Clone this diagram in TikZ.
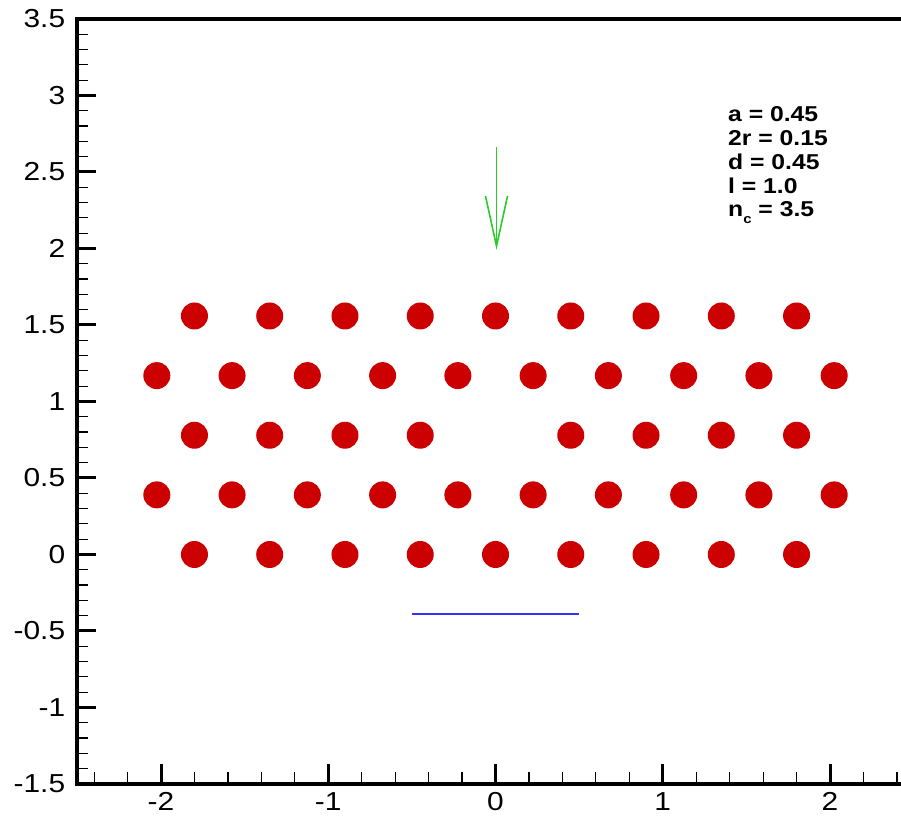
\documentclass[tikz,border=0pt]{standalone}
\usepackage{fontspec}
\setmainfont{Liberation Sans}
\newfontfamily\tickfont[FakeStretch=1.15]{Liberation Sans}
\definecolor{dotred}{RGB}{204,0,0}
\definecolor{arrgreen}{RGB}{40,205,40}
\definecolor{lineblue}{RGB}{50,50,255}
\tikzset{
  framebox/.style={line width=4pt},
  majortick/.style={line width=3pt},
  minortick/.style={line width=1.2pt},
  dot/.style={circle,fill=dotred,inner sep=0pt,minimum size=27pt},
  ticklabel/.style={inner sep=0pt,font=\tickfont\fontsize{26}{26}\selectfont},
  legendtext/.style={inner sep=0pt,anchor=base west,font=\tickfont\bfseries\fontsize{21.5}{23.7}\selectfont},
  greenline/.style={draw=arrgreen,line width=1.6pt},
  blueline/.style={draw=lineblue,line width=1.6pt}
}
\begin{document}
\begin{tikzpicture}[x=1pt,y=1pt]
\useasboundingbox (0,0) rectangle (901,818);
\clip (0,0) rectangle (901,818);
\fill[white] (0,0) rectangle (901,818);
\begin{scope}[shift={(495.5,263.5)},x=167.25pt,y=153pt]
  % circles
  \foreach \r/\yy in {0/0,4/1.5588} {
    \foreach \k in {0,...,8} {
      \node[dot] (c-\r-\k) at ({-1.8+0.45*\k},\yy) {};
    }
  }
  \foreach \r/\yy in {1/0.3897,3/1.1691} {
    \foreach \k in {0,...,9} {
      \node[dot] (c-\r-\k) at ({-2.025+0.45*\k},\yy) {};
    }
  }
  \foreach \k in {0,1,2,3,5,6,7,8} {
    \node[dot] (c-2-\k) at ({-1.8+0.45*\k},0.7794) {};
  }
  % green arrow
  \coordinate (arrtop) at (0.006,2.663);
  \coordinate (arrtip) at (0.006,2.016);
  \coordinate (barbL) at (-0.060,2.343);
  \coordinate (barbR) at (0.072,2.343);
  \draw[greenline] (arrtop) -- (arrtip);
  \draw[greenline,line join=miter] (barbL) -- (arrtip) -- (barbR);
  % blue line
  \coordinate (blueL) at (-0.5,-0.39);
  \coordinate (blueR) at (0.5,-0.39);
  \draw[blueline] (blueL) -- (blueR);
  % y ticks
  \foreach \i in {-15,...,35} {
    \draw[minortick] (-2.5,{\i/10}) -- ++(11pt,0);
  }
  \foreach \v in {-1.5,-1,-0.5,0,0.5,1,1.5,2,2.5,3,3.5} {
    \draw[majortick] (-2.5,\v) -- ++(19pt,0);
  }
  % x ticks
  \foreach \i in {-12,...,12} {
    \draw[minortick] ({\i/5},-1.5) -- ++(0,12pt);
  }
  \foreach \v in {-2,-1,0,1,2} {
    \draw[majortick] (\v,-1.5) -- ++(0,20pt);
  }
  % frame
  \draw[framebox] (-2.5,-1.5) rectangle (2.5,3.5);
  % y labels
  \foreach \v/\t [count=\n] in {3.5/3.5,3/3,2.5/2.5,2/2,1.5/1.5,1/1,0.5/0.5,0/0,-0.5/-0.5,-1/-1,-1.5/-1.5} {
    \node[ticklabel,anchor=east,xshift=-12pt] (yl\n) at (-2.5,\v) {\t};
  }
  % x labels
  \foreach \v [count=\n] in {-2,-1,0,1,2} {
    \node[ticklabel,anchor=north,yshift=-8pt] (xl\n) at (\v,-1.5) {\v};
  }
\end{scope}
% legend
\node[legendtext] (leg1) at (728,696) {a = 0.45};
\node[legendtext] (leg2) at (728,672.3) {2r = 0.15};
\node[legendtext] (leg3) at (728,648.6) {d = 0.45};
\node[legendtext] (leg4) at (728,624.9) {l = 1.0};
\node[legendtext] (leg5) at (728,601.2) {n\raisebox{-0.32em}{\fontsize{13}{13}\selectfont c} = 3.5};
\end{tikzpicture}
\end{document}
